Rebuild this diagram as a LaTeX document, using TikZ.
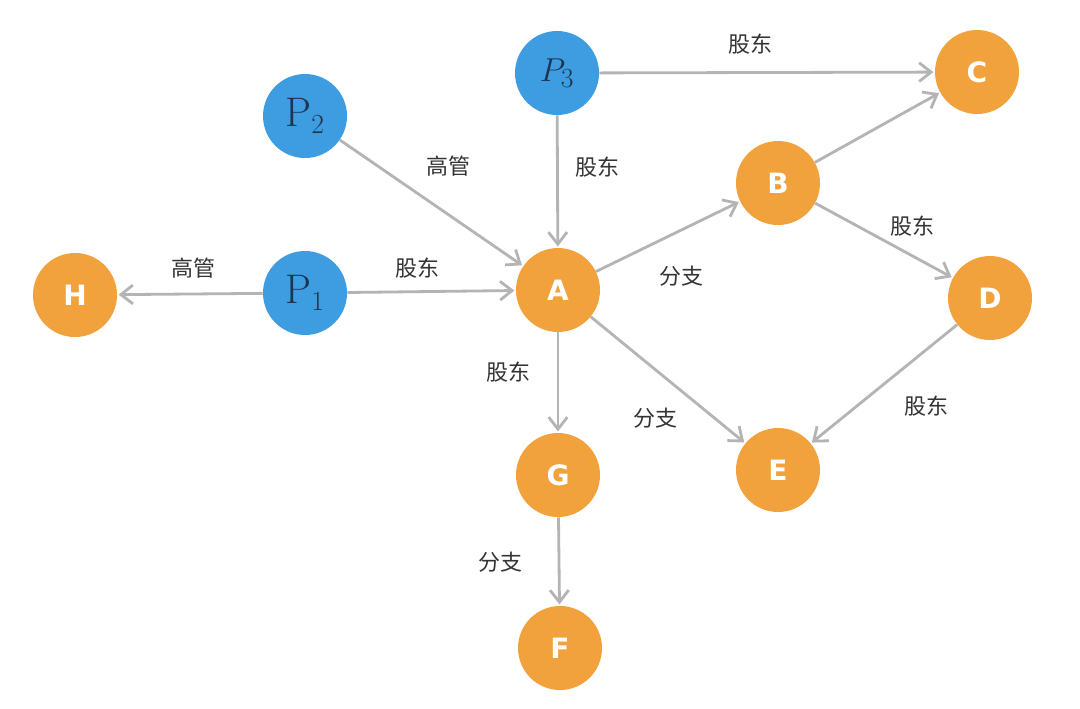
\documentclass[tikz,border=0pt]{standalone}
\usepackage{fontspec}
\setsansfont{DejaVu Sans}
\newfontfamily\cjk{Noto Sans CJK SC}
\usetikzlibrary{arrows.meta}
\definecolor{org}{HTML}{F2A23C}
\definecolor{blu}{HTML}{3E9DE0}
\definecolor{edg}{HTML}{B4B4B4}
\definecolor{ptxt}{HTML}{1E3550}
\begin{document}
\begin{tikzpicture}[x=0.75pt,y=-0.75pt,
  onode/.style={circle,fill=org,minimum size=63pt,inner sep=0pt,text=white,font=\sffamily\bfseries\fontsize{21}{21}\selectfont},
  pnode/.style={circle,fill=blu,minimum size=63pt,inner sep=0pt,text=ptxt,font=\fontsize{31}{31}\selectfont},
  conn/.style={draw=edg,line width=2.1pt,-{Straight Barb[length=9pt,width=14pt,line width=2.1pt]},shorten >=1pt},
  lbl/.style={font=\cjk\fontsize{16.5}{16.5}\selectfont,text=black!80,inner sep=0pt}]
\useasboundingbox (0,0) rectangle (1080,708);
\fill[white] (0,0) rectangle (1080,708);
\node[onode] (H) at (75,295) {H};
\node[pnode] (P1) at (305,293) {$\mathrm{P}_1$};
\node[pnode] (P2) at (305,116) {$\mathrm{P}_2$};
\node[pnode] (P3) at (557,73) {$P_3$};
\node[onode] (A) at (558,290) {A};
\node[onode] (B) at (778,183) {B};
\node[onode] (C) at (977,72) {C};
\node[onode] (D) at (990,298) {D};
\node[onode] (E) at (778,470) {E};
\node[onode] (G) at (558,475) {G};
\node[onode] (F) at (560,648) {F};
\draw[conn] (P1) -- (H);
\draw[conn] (P1) -- (A);
\draw[conn] (P2) -- (A);
\draw[conn] (P3) -- (A);
\draw[conn] (P3) -- (C);
\draw[conn] (B) -- (C);
\draw[conn] (A) -- (B);
\draw[conn] (B) -- (D);
\draw[conn] (A) -- (E);
\draw[conn] (D) -- (E);
\draw[conn] (A) -- (G);
\draw[conn] (G) -- (F);
\node[lbl] (l1) at (750,44) {股东};
\node[lbl] (l2) at (597,167) {股东};
\node[lbl] (l3) at (448,166) {高管};
\node[lbl] (l4) at (193,268) {高管};
\node[lbl] (l5) at (417,268) {股东};
\node[lbl] (l6) at (681,276) {分支};
\node[lbl] (l7) at (912,226) {股东};
\node[lbl] (l8) at (508,372) {股东};
\node[lbl] (l9) at (655,418) {分支};
\node[lbl] (l10) at (926,406) {股东};
\node[lbl] (l11) at (500,562) {分支};
\end{tikzpicture}
\end{document}
